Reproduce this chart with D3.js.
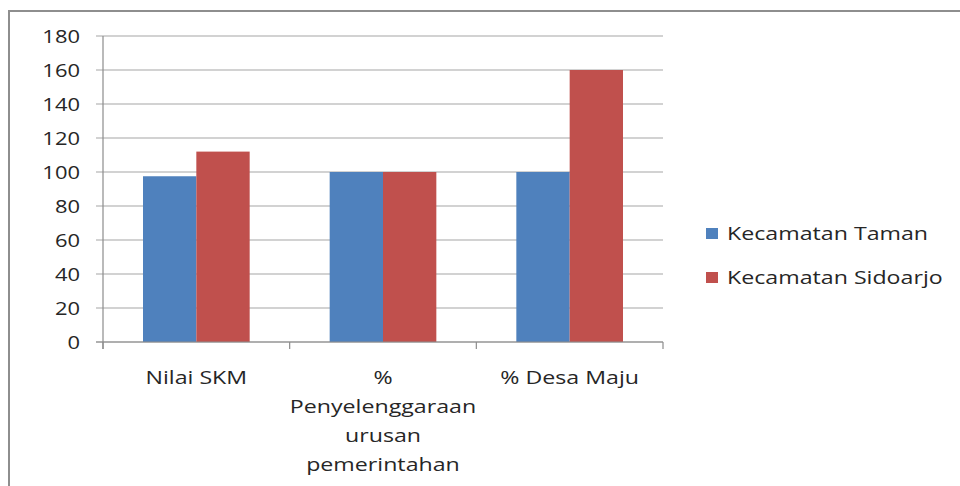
<!DOCTYPE html>
<html>
<head>
<meta charset="utf-8">
<script src="https://cdn.jsdelivr.net/npm/d3@7"></script>
<style>
  body { margin: 0; background: #fff; }
  text { font-family: "Open Sans", sans-serif; fill: #262626; }
</style>
</head>
<body>
<script>
const categories = ["Nilai SKM", "%\nPenyelenggaraan\nurusan\npemerintahan", "% Desa Maju"];
const seriesNames = ["Kecamatan Taman", "Kecamatan Sidoarjo"];
const taman = [97.5, 100, 100];
const sidoarjo = [112, 100, 160];
const yTicks = [0, 20, 40, 60, 80, 100, 120, 140, 160, 180];

const width = 960;
const height = 486;
const colors = ["#4f81bd", "#c0504d"];
const SX = 1.22; // stretched glyphs as in the picture

const svg = d3.select("body").append("svg")
  .attr("width", width)
  .attr("height", height);

// chart frame
svg.append("rect")
  .attr("x", 9).attr("y", 11)
  .attr("width", 980).attr("height", 500)
  .attr("fill", "#fff")
  .attr("stroke", "#8e8e8e")
  .attr("stroke-width", 2);

const x = d3.scaleBand().domain(categories).range([103, 663]);
const xs = d3.scaleBand().domain(seriesNames)
  .range([0, x.bandwidth()])
  .paddingOuter(0.75)
  .paddingInner(0);
const y = d3.scaleLinear().domain([0, 180]).range([342, 36]);

// gridlines
svg.append("g")
  .selectAll("line")
  .data(yTicks)
  .join("line")
  .attr("x1", 96).attr("x2", 663)
  .attr("y1", d => y(d)).attr("y2", d => y(d))
  .attr("stroke", "#a6a6a6")
  .attr("stroke-width", 1.2);

// y labels
svg.append("g")
  .selectAll("text")
  .data(yTicks)
  .join("text")
  .attr("transform", d => `translate(80,${y(d) + 6.5}) scale(${SX},1)`)
  .attr("text-anchor", "end")
  .style("font-size", "18px")
  .text(d => d);

// bars
const rows = categories.map((c, i) => ({ cat: c, values: [taman[i], sidoarjo[i]] }));
svg.append("g")
  .selectAll("g")
  .data(rows)
  .join("g")
  .attr("transform", d => `translate(${x(d.cat)},0)`)
  .selectAll("rect")
  .data(d => d.values.map((v, j) => ({ name: seriesNames[j], v, j })))
  .join("rect")
  .attr("x", d => xs(d.name))
  .attr("width", xs.bandwidth())
  .attr("y", d => y(d.v))
  .attr("height", d => y(0) - y(d.v))
  .attr("fill", d => colors[d.j]);

// axes lines
svg.append("line")
  .attr("x1", 103).attr("x2", 103)
  .attr("y1", 36).attr("y2", 349)
  .attr("stroke", "#8c8c8c").attr("stroke-width", 1.2);
svg.append("line")
  .attr("x1", 96).attr("x2", 663)
  .attr("y1", y(0)).attr("y2", y(0))
  .attr("stroke", "#8c8c8c").attr("stroke-width", 1.2);
const bounds = categories.map(c => x(c)).concat([x.range()[1]]);
svg.append("g")
  .selectAll("line")
  .data(bounds)
  .join("line")
  .attr("x1", d => d).attr("x2", d => d)
  .attr("y1", y(0)).attr("y2", y(0) + 7)
  .attr("stroke", "#8c8c8c").attr("stroke-width", 1.2);

// category labels
const catG = svg.append("g")
  .selectAll("g")
  .data(categories)
  .join("g")
  .attr("transform", d => `translate(${x(d) + x.bandwidth() / 2},0)`);
catG.selectAll("text")
  .data(d => d.split("\n"))
  .join("text")
  .attr("transform", (d, i) => `translate(0,${384 + i * 29}) scale(${SX},1)`)
  .attr("text-anchor", "middle")
  .style("font-size", "19px")
  .text(d => d);

// legend
const legend = svg.append("g")
  .selectAll("g")
  .data(seriesNames)
  .join("g")
  .attr("transform", (d, i) => `translate(706,${228 + i * 44})`);
legend.append("rect")
  .attr("width", 12).attr("height", 11)
  .attr("fill", (d, i) => colors[i]);
legend.append("text")
  .attr("transform", `translate(21,12) scale(${SX},1)`)
  .style("font-size", "19px")
  .text(d => d);
</script>
</body>
</html>
